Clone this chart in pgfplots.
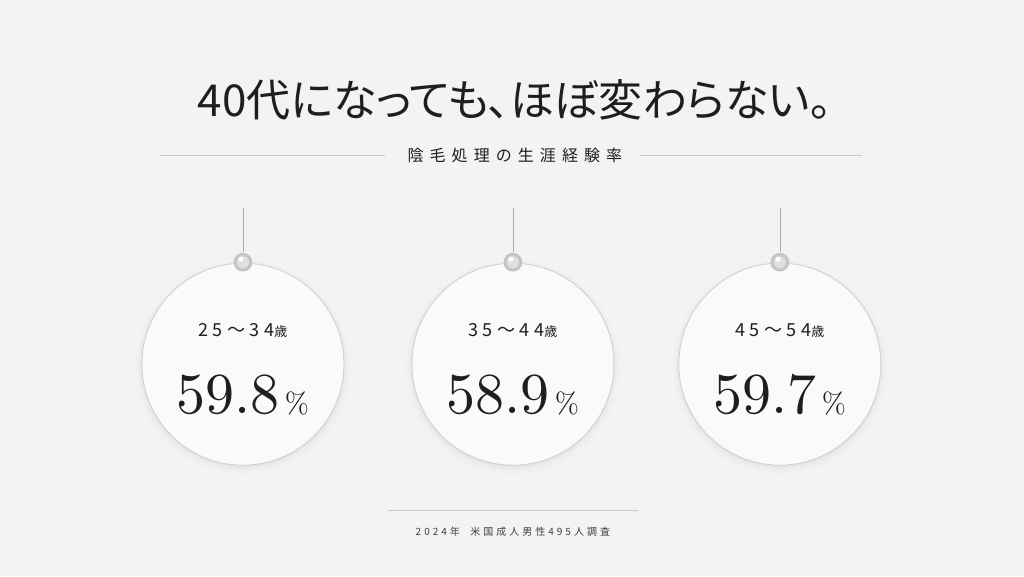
\documentclass[border=0pt]{standalone}
\usepackage{fontspec}
\usepackage{pgfplots}
\usepackage{pgfplotstable}
\pgfplotsset{compat=1.18}

\newfontfamily\jptitle[RawFeature=+palt]{Noto Sans CJK JP}
\newfontfamily\jpsub[LetterSpace=38]{Noto Sans CJK JP}
\newfontfamily\jpage[LetterSpace=25]{Noto Sans CJK JP}
\newfontfamily\jpfoot[LetterSpace=30]{Noto Sans CJK JP}
\newfontfamily\numfont[Extension=.otf]{lmroman10-regular}

\definecolor{ink}{HTML}{1E1E1E}
\definecolor{rule}{HTML}{C8C8C8}
\definecolor{bg}{HTML}{F3F3F3}
\definecolor{ring}{HTML}{CDCDCD}

% circle centres (px, y down), age band, rate in %
\pgfplotstableread{
x   y   age    val
243 364 25～34 59.8
513 364 35～44 58.9
780 364 45～54 59.7
}\circdata

\begin{document}
\begin{tikzpicture}
\begin{axis}[
    width=1024pt, height=576pt, scale only axis,
    xmin=0, xmax=1024, ymin=0, ymax=576,
    y dir=reverse,
    hide axis, clip=false,
]

% background, faint marble veins
\fill[bg] (axis cs:0,0) rectangle (axis cs:1024,576);
\draw[gray!12, line width=0.5pt] (axis cs:20,520) -- (axis cs:70,430) -- (axis cs:110,380)
    -- (axis cs:150,300) -- (axis cs:190,230) -- (axis cs:230,150) -- (axis cs:260,40);
\draw[gray!10, line width=0.5pt] (axis cs:120,360) -- (axis cs:90,250) -- (axis cs:40,180);
\draw[gray!12, line width=0.5pt] (axis cs:890,560) -- (axis cs:930,470) -- (axis cs:960,380)
    -- (axis cs:1000,300) -- (axis cs:1024,250);
\draw[gray!10, line width=0.5pt] (axis cs:560,0) -- (axis cs:600,60) -- (axis cs:660,90);
\draw[gray!10, line width=0.5pt] (axis cs:640,576) -- (axis cs:680,500) -- (axis cs:740,470);

% title block
\node[text=ink] at (axis cs:515,100)
    {\jptitle\fontsize{44}{44}\selectfont 40代になっても、ほぼ変わらない。};
\draw[rule, line width=0.8pt] (axis cs:160,155) -- (axis cs:385,155);
\draw[rule, line width=0.8pt] (axis cs:640,155) -- (axis cs:862,155);
\node[text=ink] at (axis cs:515,155)
    {\jpsub\fontsize{16}{16}\selectfont 陰毛処理の生涯経験率};

% pendant strings and short rules
\pgfplotsinvokeforeach{243,513,780}{
    \draw[gray!65, line width=0.6pt] (axis cs:#1,208) -- (axis cs:#1,252);
    \draw[rule, line width=0.6pt] (axis cs:#1-26,354) -- (axis cs:#1+26,354);
}

% soft shadow round the circles
\addplot[only marks, mark=*, mark size=107,
    mark options={draw opacity=0, fill=black, fill opacity=0.012}]
    table[x=x, y expr=\thisrow{y}+3] {\circdata};
\addplot[only marks, mark=*, mark size=104,
    mark options={draw opacity=0, fill=black, fill opacity=0.02}]
    table[x=x, y expr=\thisrow{y}+2] {\circdata};
\addplot[only marks, mark=*, mark size=102,
    mark options={draw opacity=0, fill=black, fill opacity=0.03}]
    table[x=x, y expr=\thisrow{y}+1] {\circdata};
% circles
\addplot[only marks, mark=*, mark size=101,
    mark options={draw=ring, line width=0.7pt, fill=white!98!black}]
    table[x=x, y=y] {\circdata};

% pendant balls: silver disc with a highlight
\addplot[only marks, mark=*, mark size=9,
    mark options={draw=gray!55, line width=0.5pt, fill=white!78!black}]
    table[x=x, y expr=\thisrow{y}-102] {\circdata};
\addplot[only marks, mark=*, mark size=6,
    mark options={draw opacity=0, fill=white!88!black}]
    table[x=x, y expr=\thisrow{y}-102] {\circdata};
\addplot[only marks, mark=*, mark size=2.5,
    mark options={draw opacity=0, fill=white}]
    table[x expr=\thisrow{x}-2, y expr=\thisrow{y}-105] {\circdata};

% age bands
\addplot[draw=none, mark=none, nodes near coords, point meta=explicit symbolic,
    nodes near coords={\jpage\fontsize{18}{18}\selectfont\pgfplotspointmeta{\fontsize{13}{13}\selectfont 歳}},
    every node near coord/.append style={anchor=center, text=ink}]
    table[x=x, y expr=\thisrow{y}-34, meta=age] {\circdata};

% rates
\addplot[draw=none, mark=none, nodes near coords, point meta=explicit symbolic,
    nodes near coords={\numfont\fontsize{58}{58}\selectfont\pgfplotspointmeta\hspace{5pt}{\fontsize{29}{29}\selectfont\%}},
    every node near coord/.append style={anchor=base, text=ink}]
    table[x=x, y expr=\thisrow{y}+49, meta=val] {\circdata};

% footer
\draw[rule, line width=0.8pt] (axis cs:388,510) -- (axis cs:638,510);
\node[text=ink!85] at (axis cs:513,532)
    {\jpfoot\fontsize{10}{10}\selectfont 2024年\ \ 米国成人男性495人調査};

\end{axis}
\end{tikzpicture}
\end{document}
